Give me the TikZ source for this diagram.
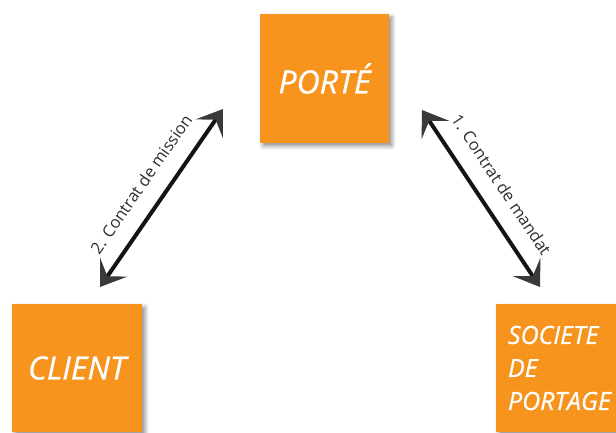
\documentclass[tikz,border=0pt]{standalone}
\usepackage{fontspec}
\setmainfont{Open Sans}
\newfontfamily\boxfont[FakeBold=0.8]{Open Sans}
\usetikzlibrary{arrows.meta,shadows.blur}
\definecolor{boxorange}{RGB}{247,148,30}
\definecolor{shaftgray}{RGB}{20,20,20}
\definecolor{headgray}{RGB}{58,58,58}
\definecolor{labelgray}{RGB}{45,45,45}
\tikzset{
  box/.style={fill=boxorange, draw=none, inner sep=0pt, text=white,
    blur shadow={shadow xshift=3pt, shadow yshift=-3pt, shadow blur radius=4pt, shadow opacity=45}},
  bigtext/.style={font=\boxfont\itshape\fontsize{32}{32}\selectfont},
  link/.style={line width=4pt, draw=shaftgray,
    >={Stealth[length=24pt, width=33pt, inset=11pt, color=headgray]}, <->},
  linklabel/.style={sloped, above=13pt, text=labelgray, font=\fontsize{16.5}{16.5}\selectfont}
}
\begin{document}
\begin{tikzpicture}[x=1pt, y=1pt]
  \useasboundingbox (0,0) rectangle (616,432);
  \clip (0,0) rectangle (616,432);

  % the three parties
  \node[box, bigtext, minimum width=129pt, minimum height=129pt] (porte) at (324.5,353.5) {PORTÉ};
  \node[box, bigtext, minimum width=130pt, minimum height=128pt] (client) at (77,64) {CLIENT};
  \node[box, font=\boxfont\itshape\fontsize{25}{33}\selectfont, minimum width=130pt, minimum height=128pt,
        text width=106pt, inner xsep=12pt, align=left] (societe) at (561,64) {SOCIETE\\DE\\PORTAGE};

  % contract arrows
  \coordinate (cl) at (100,145);
  \coordinate (cu) at (223,323);
  \coordinate (mu) at (422,322);
  \coordinate (ml) at (540,145);

  \draw[link] (cl) -- node[linklabel] {2. Contrat de mission} (cu);
  \draw[link] (mu) -- node[linklabel] {1. Contrat de mandat} (ml);
\end{tikzpicture}
\end{document}
